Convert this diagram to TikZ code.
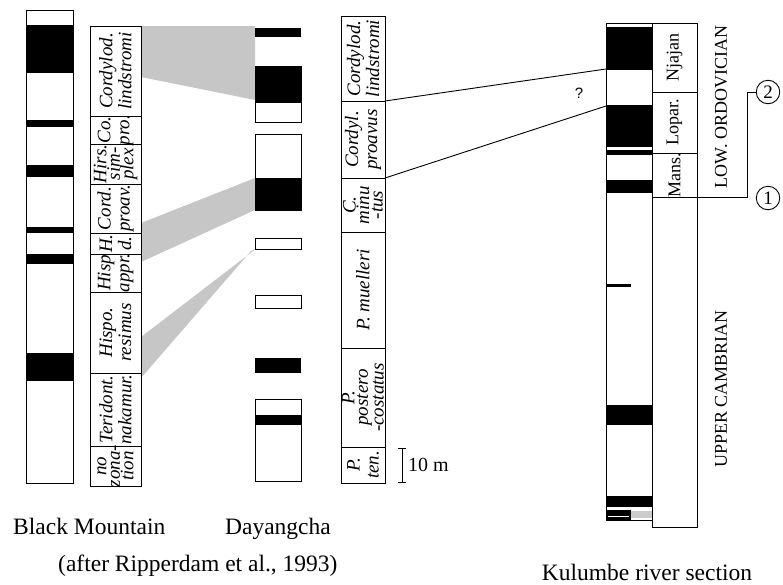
\documentclass[tikz,border=0pt]{standalone}
\usepackage{fontspec}
\setmainfont{Liberation Serif}
\setsansfont{Liberation Sans}
\begin{document}
\begin{tikzpicture}[x=1pt,y=-1pt,
  outl/.style={draw=black,line width=0.9pt},
  cellbox/.style={draw=black,line width=0.9pt,inner sep=0pt,outer sep=0pt},
  ztext/.style={font=\itshape\fontsize{19}{19}\selectfont,align=center,rotate=90,inner sep=0pt},
  ztextiii/.style={font=\itshape\fontsize{19}{13.5}\selectfont,align=center,rotate=90,inner sep=0pt},
  ktext/.style={font=\fontsize{18}{18}\selectfont,rotate=90,inner sep=0pt},
  label/.style={font=\fontsize{23.5}{23.5}\selectfont,inner sep=0pt,anchor=base west},
  corr/.style={fill=gray!45},
  tie/.style={line width=0.9pt},
  num/.style={circle,draw,line width=0.9pt,minimum size=23.5pt,inner sep=0pt,font=\fontsize{19}{19}\selectfont}]
\useasboundingbox (0,0) rectangle (783,584);

% cell of a zone column: [text style], name, x1, y1, x2, y2, text
\newcommand\zcell[7][ztext]{%
  \node[cellbox,minimum width={#5pt-#3pt},minimum height={#6pt-#4pt}] (#2) at ({(#3+#5)/2},{(#4+#6)/2}) {};
  \node[#1] at (#2.center) {#7};}

% shaded correlation bands
\fill[corr] (141,26) -- (255,26) -- (255,100) -- (141,77) -- cycle;
\fill[corr] (141,223) -- (255,178) -- (255,210) -- (141,262) -- cycle;
\fill[corr] (257,248) -- (141,337) -- (141,378) -- (251,251) -- cycle;

% Black Mountain section
\fill (26,25) rectangle (73,73);
\fill (26,120) rectangle (73,127);
\fill (26,165) rectangle (73,177);
\fill (26,227) rectangle (73,233);
\fill (26,254) rectangle (73,264);
\fill (26,353) rectangle (73,381);
\draw[outl] (26,10) rectangle (73,483);

% Black Mountain zones
\zcell{bz1}{90}{26}{141}{116}{Cordylod.\\lindstromi}
\zcell{bz2}{90}{116}{141}{144}{Co.\\pro.}
\zcell[ztextiii]{bz3}{90}{144}{141}{184}{Hirs.\\sim-\\plex}
\zcell{bz4}{90}{184}{141}{233}{Cord.\\proav.}
\zcell{bz5}{90}{233}{141}{254}{H.\\d.}
\zcell{bz6}{90}{254}{141}{292}{Hisp\\appr.}
\zcell{bz7}{90}{292}{141}{373}{Hispo.\\resimus}
\zcell{bz8}{90}{373}{141}{446}{Teridont.\\nakamur.}
\zcell[ztextiii]{bz9}{90}{446}{141}{486}{no\\zona-\\tion}

% Dayangcha section
\fill (255,28) rectangle (301,37);
\fill (255,66) rectangle (301,103);
\draw[outl] (255,66) rectangle (301,122);
\fill (255,178) rectangle (301,210);
\draw[outl] (255,134) rectangle (301,210);
\draw[outl] (255,238) rectangle (301,249);
\draw[outl] (255,295) rectangle (301,308);
\fill (255,358) rectangle (301,373);
\fill (255,415) rectangle (301,425);
\draw[outl] (255,399) rectangle (301,481);

% Dayangcha zones
\zcell{dz1}{341}{16}{385}{101}{Cordylod.\\lindstromi}
\zcell{dz2}{341}{101}{385}{178}{Cordyl.\\proavus}
\zcell[ztextiii]{dz3}{341}{178}{385}{232}{C.\\minu\\-tus}
\zcell{dz4}{341}{232}{385}{348}{P. muelleri}
\zcell[ztextiii]{dz5}{341}{348}{385}{447}{P.\\postero\\-costatus}
\zcell{dz6}{341}{447}{385}{483}{P.\\ten.}

% scale bar
\draw[tie] (398,448) -- (406,448) (402,448) -- (402,482) (398,482) -- (406,482);
\node[font=\fontsize{20}{20}\selectfont,anchor=west,inner sep=0pt] (scl) at (408,465) {10 m};

% Kulumbe river section
\fill (606,27) rectangle (652,70);
\fill (606,105) rectangle (652,147);
\fill (606,150) rectangle (652,155);
\fill (606,180) rectangle (652,193);
\fill (606,284) rectangle (631,287);
\fill (606,405) rectangle (652,425);
\fill (606,496) rectangle (652,507);
\fill (606,510) rectangle (631,520);
\draw[white,line width=0.8pt] (608,516.5) -- (629,516.5);
\fill[gray!40] (631,511) rectangle (652,518);
\draw[outl] (606,23) rectangle (652,520);

% Kulumbe zones
\node[cellbox,minimum width=45pt,minimum height=504pt] (kz) at (674.5,275) {};
\zcell[ktext]{kz1}{652}{23}{697}{92}{Njajan}
\zcell[ktext]{kz2}{652}{92}{697}{153}{Lopar.}
\zcell[ktext]{kz3}{652}{153}{697}{197}{Mans.}

\node[ktext] (ord) at (721,107) {LOW. ORDOVICIAN};
\node[ktext] (cam) at (721,389) {UPPER CAMBRIAN};

% boundary markers
\node[num] (c2) at (768,92) {2};
\node[num] (c1) at (768,198) {1};
\coordinate (bk) at (747,197);
\draw[tie] (kz3.south west) -- (bk) |- (c2);

% correlation ties
\coordinate (q1) at (606,69);
\coordinate (q2) at (606,106);
\draw[tie] (dz1.south east) -- (q1);
\draw[tie] (dz2.south east) -- (q2);
\node[font=\sffamily\fontsize{15}{15}\selectfont,inner sep=0pt] (qm) at (579,93) {?};

% captions
\node[label] (bm) at (13,534) {Black Mountain};
\node[label,anchor=base] (dy) at (278,534) {Dayangcha};
\node[label] (rip) at (58,571) {(after Ripperdam et al., 1993)};
\node[label,anchor=base] (kul) at (647,580) {Kulumbe river section};
\end{tikzpicture}
\end{document}
